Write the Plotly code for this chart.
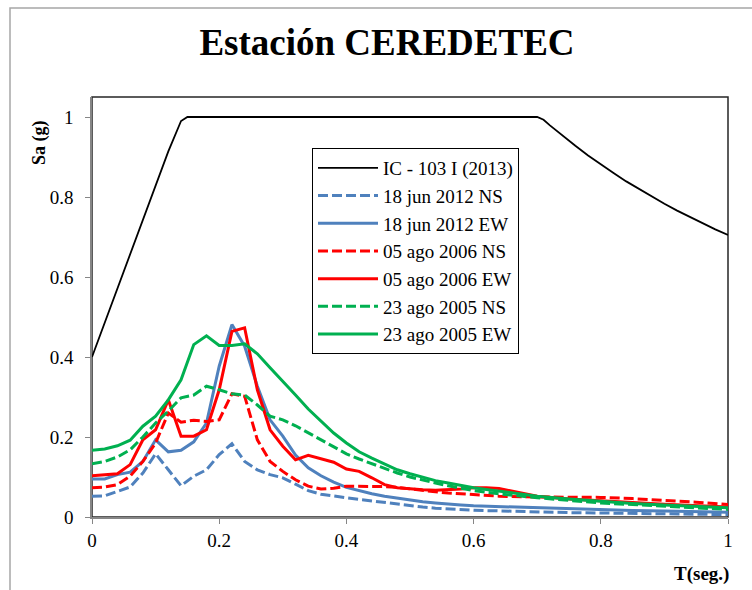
import plotly.graph_objects as go

# ---------------- data ----------------
T = [0, 0.02, 0.04, 0.06, 0.08, 0.10, 0.12, 0.14, 0.16, 0.18, 0.20, 0.22, 0.24, 0.26,
     0.28, 0.30, 0.32, 0.34, 0.36, 0.38, 0.40, 0.42, 0.44, 0.46, 0.48, 0.50, 0.52, 0.54,
     0.56, 0.58, 0.60, 0.62, 0.64, 0.70, 0.75, 0.80, 0.85, 0.90, 0.95, 1.00]

T_ic = [0, 0.02, 0.04, 0.06, 0.08, 0.10, 0.12, 0.14, 0.15, 0.70, 0.71, 0.72, 0.74, 0.76,
        0.78, 0.80, 0.82, 0.84, 0.86, 0.88, 0.90, 0.92, 0.94, 0.96, 0.98, 1.00]
sa_ic = [0.40, 0.486, 0.571, 0.657, 0.743, 0.829, 0.914, 0.99, 1.0, 1.0, 0.993, 0.979,
         0.953, 0.928, 0.904, 0.881, 0.860, 0.839, 0.820, 0.801, 0.783, 0.766, 0.750,
         0.734, 0.719, 0.705]

jun2012_ns = [0.052, 0.053, 0.064, 0.075, 0.110, 0.158, 0.118, 0.078, 0.102, 0.118, 0.156,
              0.183, 0.139, 0.118, 0.106, 0.098, 0.082, 0.066, 0.057, 0.052, 0.048, 0.044,
              0.040, 0.036, 0.032, 0.028, 0.025, 0.022, 0.020, 0.018, 0.017, 0.016, 0.015,
              0.013, 0.011, 0.010, 0.009, 0.008, 0.007, 0.006]
jun2012_ew = [0.095, 0.095, 0.106, 0.112, 0.139, 0.193, 0.163, 0.167, 0.188, 0.235, 0.377,
              0.481, 0.427, 0.327, 0.243, 0.202, 0.155, 0.123, 0.103, 0.087, 0.074, 0.066,
              0.058, 0.052, 0.047, 0.042, 0.038, 0.035, 0.032, 0.030, 0.028, 0.027, 0.026,
              0.022, 0.020, 0.018, 0.016, 0.015, 0.013, 0.012]
ago2006_ns = [0.073, 0.075, 0.081, 0.102, 0.139, 0.185, 0.260, 0.237, 0.242, 0.239, 0.243,
              0.308, 0.302, 0.193, 0.139, 0.114, 0.093, 0.077, 0.070, 0.072, 0.077, 0.077,
              0.077, 0.076, 0.074, 0.070, 0.066, 0.063, 0.060, 0.058, 0.056, 0.054, 0.052,
              0.050, 0.050, 0.049, 0.046, 0.042, 0.037, 0.031]
ago2006_ew = [0.103, 0.105, 0.108, 0.131, 0.193, 0.218, 0.293, 0.202, 0.202, 0.218, 0.318,
              0.464, 0.473, 0.318, 0.218, 0.177, 0.143, 0.154, 0.146, 0.137, 0.120, 0.114,
              0.098, 0.081, 0.073, 0.070, 0.068, 0.067, 0.068, 0.070, 0.073, 0.073, 0.071,
              0.052, 0.045, 0.040, 0.036, 0.032, 0.028, 0.025]
ago2005_ns = [0.133, 0.139, 0.150, 0.168, 0.200, 0.235, 0.265, 0.298, 0.305, 0.327, 0.318,
              0.308, 0.305, 0.280, 0.252, 0.243, 0.228, 0.210, 0.193, 0.175, 0.158, 0.145,
              0.133, 0.120, 0.110, 0.100, 0.092, 0.085, 0.078, 0.072, 0.066, 0.062, 0.058,
              0.048, 0.041, 0.035, 0.031, 0.027, 0.023, 0.019]
ago2005_ew = [0.167, 0.170, 0.178, 0.192, 0.227, 0.252, 0.293, 0.343, 0.431, 0.453, 0.429,
              0.429, 0.433, 0.408, 0.373, 0.340, 0.305, 0.270, 0.240, 0.210, 0.185, 0.163,
              0.147, 0.132, 0.118, 0.108, 0.099, 0.091, 0.085, 0.079, 0.073, 0.069, 0.065,
              0.052, 0.045, 0.039, 0.034, 0.030, 0.026, 0.023]

tick_vals = [0, 0.2, 0.4, 0.6, 0.8, 1]
tick_text = ["0", "0.2", "0.4", "0.6", "0.8", "1"]

# ---------------- styles ----------------
FONT = "Liberation Serif, Times New Roman, serif"
BLUE, RED, GREEN = "#4F81BD", "#FF0000", "#00B050"
DASH = "10px,4px"
W = 3

fig = go.Figure()
fig.add_trace(go.Scatter(x=T_ic, y=sa_ic, mode="lines", name="IC - 103 I (2013)",
                         line=dict(color="black", width=1.8)))
series = [
    ("18 jun 2012 NS", jun2012_ns, BLUE, DASH),
    ("18 jun 2012 EW", jun2012_ew, BLUE, "solid"),
    ("05 ago 2006 NS", ago2006_ns, RED, DASH),
    ("05 ago 2006 EW", ago2006_ew, RED, "solid"),
    ("23 ago 2005 NS", ago2005_ns, GREEN, DASH),
    ("23 ago 2005 EW", ago2005_ew, GREEN, "solid"),
]
for name, vals, col, dash in series:
    fig.add_trace(go.Scatter(x=T, y=vals, mode="lines", name=name,
                             line=dict(color=col, width=W, dash=dash)))

L, R, TOP, BOT = 92, 24, 97, 73
PW, PH = 752 - L - R, 590 - TOP - BOT


def px(xp):
    return (xp - L) / PW


def py(yp):
    return (590 - BOT - yp) / PH


fig.update_layout(
    width=752, height=590,
    margin=dict(l=L, r=R, t=TOP, b=BOT),
    paper_bgcolor="white", plot_bgcolor="white",
    font=dict(family=FONT, size=19, color="black"),
    title=dict(text="<b>Estación CEREDETEC</b>", x=387 / 752, xanchor="center",
               y=1 - 42 / 590, yanchor="middle", font=dict(family=FONT, size=37)),
    showlegend=True,
    legend=dict(x=px(312), y=py(148), xanchor="left", yanchor="top",
                bordercolor="black", borderwidth=1, bgcolor="white",
                font=dict(family=FONT, size=19), tracegroupgap=0, itemwidth=60),
    xaxis=dict(range=[0, 1], tickvals=tick_vals, ticktext=tick_text,
               showgrid=False, zeroline=False, showline=True, linecolor="#868686",
               linewidth=1.5, ticks="outside", ticklen=5, tickcolor="#868686",
               tickfont=dict(family=FONT, size=19)),
    yaxis=dict(range=[0, 1.05], tickvals=tick_vals, ticktext=tick_text,
               showgrid=False, zeroline=False, showline=True, linecolor="#868686",
               linewidth=1.5, ticks="outside", ticklen=5, tickcolor="#868686",
               tickfont=dict(family=FONT, size=19), ticklabelstandoff=8),
    shapes=[
        dict(type="rect", xref="paper", yref="paper", x0=0, x1=1, y0=0, y1=1,
             line=dict(color="#262626", width=1.5), layer="below"),
        dict(type="rect", xref="paper", yref="paper", x0=px(10), x1=px(770),
             y0=py(610), y1=py(8), line=dict(color="#A6A6A6", width=1.5), layer="below"),
    ],
    annotations=[
        dict(text="<b>Sa (g)</b>", xref="paper", yref="paper", x=px(27), y=py(118),
             textangle=-90, showarrow=False, font=dict(family=FONT, size=18)),
        dict(text="<b>T(seg.)</b>", xref="paper", yref="paper", x=px(731), y=py(574),
             xanchor="right", yanchor="middle", showarrow=False,
             font=dict(family=FONT, size=19)),
    ],
)

fig.write_html("out.html")
